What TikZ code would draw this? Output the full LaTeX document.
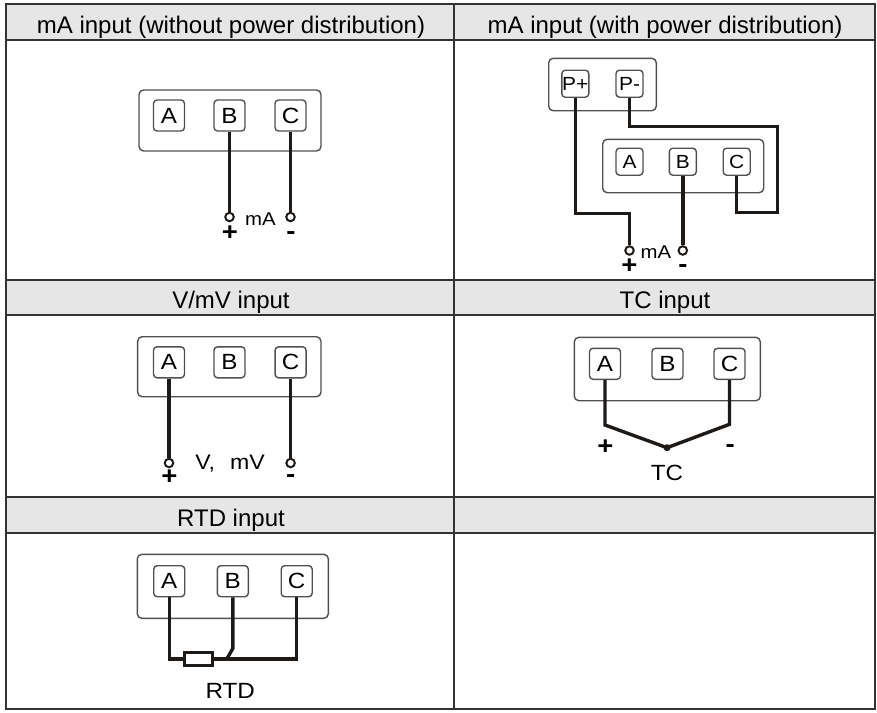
\documentclass[tikz,border=0pt]{standalone}
\usepackage{fontspec}
\setmainfont{Liberation Sans}
\newfontfamily\lbl{Liberation Sans}[FakeStretch=1.1]
\definecolor{tline}{HTML}{333333}
\definecolor{hdrgray}{HTML}{E6E6E6}
\definecolor{boxgray}{HTML}{505050}
\definecolor{wirec}{HTML}{1E1A18}
\tikzset{
  tbl/.style={draw=tline, line width=2.2pt},
  hdrfill/.style={fill=hdrgray},
  hdrtext/.style={anchor=base, inner sep=0pt, font=\fontsize{24}{28}\selectfont, text=black},
  devbox/.style={draw=boxgray, line width=1.4pt, rounded corners=4.5pt, inner sep=0pt},
  term/.style={draw=boxgray, line width=1.4pt, rounded corners=3.5pt, inner sep=0pt, minimum width=31pt, minimum height=31pt, font=\lbl\fontsize{22}{22}\selectfont},
  smallterm/.style={term, minimum width=27pt, minimum height=27pt, font=\lbl\fontsize{19}{19}\selectfont},
  wire/.style={draw=wirec, line width=3.4pt, line join=miter},
  tipc/.style={circle, draw=wirec, line width=2pt, fill=white, inner sep=0pt, minimum size=8.5pt},
  dotc/.style={circle, fill=wirec, inner sep=0pt, minimum size=7pt},
  resist/.style={draw=wirec, line width=3pt, fill=white, inner sep=0pt, minimum width=27.7pt, minimum height=13.2pt},
  lab/.style={inner sep=0pt, font=\lbl\fontsize{22}{22}\selectfont, text=black},
  labsm/.style={inner sep=0pt, font=\lbl\fontsize{18.5}{18.5}\selectfont, text=black},
  sign/.style={inner sep=0pt, anchor=base, font=\lbl\fontsize{25}{25}\selectfont\bfseries, text=black},
}
\begin{document}
\begin{tikzpicture}[x=1pt, y=-1pt]
\useasboundingbox (0,0) rectangle (877,712);
% header fills
\path[hdrfill] (6,4) rectangle (875,40);
\path[hdrfill] (6,280) rectangle (875,315);
\path[hdrfill] (6,497) rectangle (875,533);
% table lines
\draw[tbl] (6,4) rectangle (875,709);
\foreach \yy in {40,280,315,497,533} \draw[tbl] (6,\yy) -- (875,\yy);
\draw[tbl] (454,4) -- (454,709);
% headers
\node[hdrtext] (h1) at (231,33) {mA input (without power distribution)};
\node[hdrtext] (h2) at (665,33) {mA input (with power distribution)};
\node[hdrtext] (h3) at (231,308.5) {V/mV input};
\node[hdrtext] (h4) at (665,308.5) {TC input};
\node[hdrtext] (h5) at (231,526.5) {RTD input};

% ---------- Panel 1: mA without power ----------
\node[devbox, minimum width=182pt, minimum height=61pt] (b1) at (230,120.5) {};
\node[term] (A1) at (169,115.5) {A};
\node[term] (B1) at (229.5,115.5) {B};
\node[term] (C1) at (290.5,115.5) {C};
\node[tipc] (p1) at (229.5,217) {};
\node[tipc] (n1) at (290.5,217) {};
\draw[wire] (B1.south) -- (p1.north);
\draw[wire] (C1.south) -- (n1.north);
\node[labsm] (m1) at (260.5,219) {mA};
\node[sign] (s1p) at (230,240.5) {+};
\node[sign] (s1n) at (291,239) {-};

% ---------- Panel 2: mA with power ----------
\node[devbox, minimum width=107.6pt, minimum height=52.4pt] (pw) at (602.5,84.5) {};
\node[smallterm] (Pp) at (575.3,83.7) {P+};
\node[smallterm] (Pm) at (629.5,83.7) {P-};
\node[devbox, minimum width=161pt, minimum height=53.4pt] (b2) at (683.2,166) {};
\node[smallterm] (A2) at (629.5,161.7) {A};
\node[smallterm] (B2) at (682.8,161.7) {B};
\node[smallterm] (C2) at (736.7,161.7) {C};
\node[tipc] (p2) at (629.5,250.5) {};
\node[tipc] (n2) at (682.8,250.5) {};
\coordinate (q1) at (575.3,213.3);
\coordinate (r1) at (777.7,126.7);
\coordinate (r2) at (777.7,212.3);
\draw[wire] (Pp.south) -- (q1) -| (p2.north);
\draw[wire] (Pm.south) |- (r1) -- (r2) -| (C2.south);
\draw[wire] (B2.south) -- (n2.north);
\node[labsm] (m2) at (656,252) {mA};
\node[sign] (s2p) at (629.5,273.5) {+};
\node[sign] (s2n) at (683,272) {-};

% ---------- Panel 3: V/mV ----------
\node[devbox, minimum width=183.3pt, minimum height=60pt] (b3) at (229.3,366.7) {};
\node[term] (A3) at (169,362.3) {A};
\node[term] (B3) at (229.5,362.3) {B};
\node[term] (C3) at (290.6,362.3) {C};
\node[tipc] (p3) at (169,463) {};
\node[tipc] (n3) at (290.6,463) {};
\draw[wire] (A3.south) -- (p3.north);
\draw[wire] (C3.south) -- (n3.north);
\node[lab, font=\lbl\fontsize{21}{21}\selectfont] (v3) at (230,464) {V,\hspace{15pt}mV};
\node[sign] (s3p) at (169.5,484.5) {+};
\node[sign] (s3n) at (290.6,482.5) {-};

% ---------- Panel 4: TC ----------
\node[devbox, minimum width=186pt, minimum height=63.4pt] (b4) at (667.3,369) {};
\node[term] (A4) at (605,363.8) {A};
\node[term] (B4) at (667.5,363.8) {B};
\node[term] (C4) at (729.5,363.8) {C};
\node[dotc] (j4) at (667,447.7) {};
\coordinate (k1) at (605,425);
\coordinate (k2) at (729.5,424.3);
\draw[wire] (A4.south) -- (k1) -- (j4.center) -- (k2) -- (C4.south);
\node[sign] (s4p) at (605.3,454.5) {+};
\node[sign] (s4n) at (730.3,452.5) {-};
\node[lab] (tc) at (667,473.3) {TC};

% ---------- Panel 5: RTD ----------
\node[devbox, minimum width=191pt, minimum height=64pt] (b5) at (232.8,586.3) {};
\node[term] (A5) at (169.2,581.2) {A};
\node[term] (B5) at (232.8,581.2) {B};
\node[term] (C5) at (296.7,581.2) {C};
\coordinate (jr) at (226.7,659.1);
\coordinate (kb) at (232.8,648.5);
\draw[wire] (A5.south) |- (198.2,659.1);
\draw[wire] (198.2,659.1) -| (C5.south);
\draw[wire] (B5.south) -- (kb) -- (jr);
\node[resist] (R5) at (198.2,659.1) {};
\node[lab] (rtd) at (230.3,691.3) {RTD};
\end{tikzpicture}
\end{document}
